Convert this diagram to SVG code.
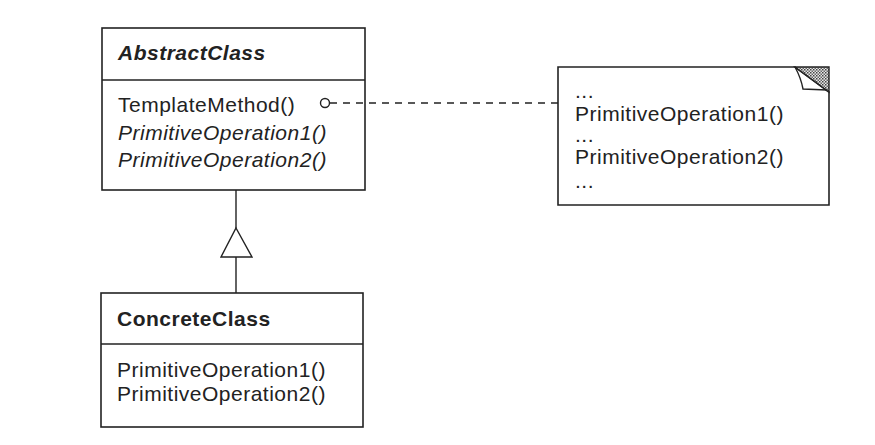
<svg xmlns="http://www.w3.org/2000/svg" width="875" height="445" viewBox="0 0 875 445">
<defs>
<pattern id="dots" width="3" height="3" patternUnits="userSpaceOnUse">
<rect width="3" height="3" fill="#e8e8e8"/>
<rect width="1.5" height="1.5" fill="#444"/>
<rect x="1.5" y="1.5" width="1.5" height="1.5" fill="#666"/>
</pattern>
</defs>
<style>
.box{fill:#fff;stroke:#222;stroke-width:1.6}
.ln{stroke:#222;stroke-width:1.4;fill:none}
.t{font-family:"Liberation Sans",Arial,sans-serif;font-size:21px;letter-spacing:0.5px;fill:#222}
.b{font-weight:bold;font-style:italic}
.bb{font-weight:bold}
.i{font-style:italic}
</style>
<rect width="875" height="445" fill="#fff"/>
<g id="AbstractClass">
<rect class="box" x="102" y="28" width="263" height="162"/>
<line class="ln" x1="102" y1="80" x2="365" y2="80"/>
<text class="t b" x="118" y="60">AbstractClass</text>
<text class="t" x="118" y="112">TemplateMethod()</text>
<text class="t i" x="118" y="140">PrimitiveOperation1()</text>
<text class="t i" x="118" y="167">PrimitiveOperation2()</text>
</g>
<g id="ConcreteClass">
<rect class="box" x="101" y="293" width="262" height="134"/>
<line class="ln" x1="101" y1="344" x2="363" y2="344"/>
<text class="t bb" x="117" y="326">ConcreteClass</text>
<text class="t" x="117" y="377">PrimitiveOperation1()</text>
<text class="t" x="117" y="401">PrimitiveOperation2()</text>
</g>
<g id="Note">
<path class="box" d="M558,67 L795,67 L829,92 L829,205 L558,205 Z"/>
<polygon points="795,67 829,67 829,92" fill="url(#dots)" stroke="#222" stroke-width="1.4"/>
<path class="ln" d="M795,67 Q801,78 803,89 L827,90"/>
<text class="t" x="575" y="98">...</text>
<text class="t" x="575" y="121">PrimitiveOperation1()</text>
<text class="t" x="575" y="142">...</text>
<text class="t" x="575" y="164">PrimitiveOperation2()</text>
<text class="t" x="575" y="188">...</text>
</g>
<g id="connectors">
<line class="ln" x1="236" y1="190" x2="236" y2="228"/>
<polygon points="236,228 252,257 221,257" fill="#fff" stroke="#222" stroke-width="1.4"/>
<line class="ln" x1="236" y1="257" x2="236" y2="293"/>
<circle cx="325" cy="103" r="4.5" fill="#fff" stroke="#222" stroke-width="1.4"/>
<line class="ln" x1="330" y1="103" x2="558" y2="103" stroke-dasharray="7,6"/>
</g>
</svg>
